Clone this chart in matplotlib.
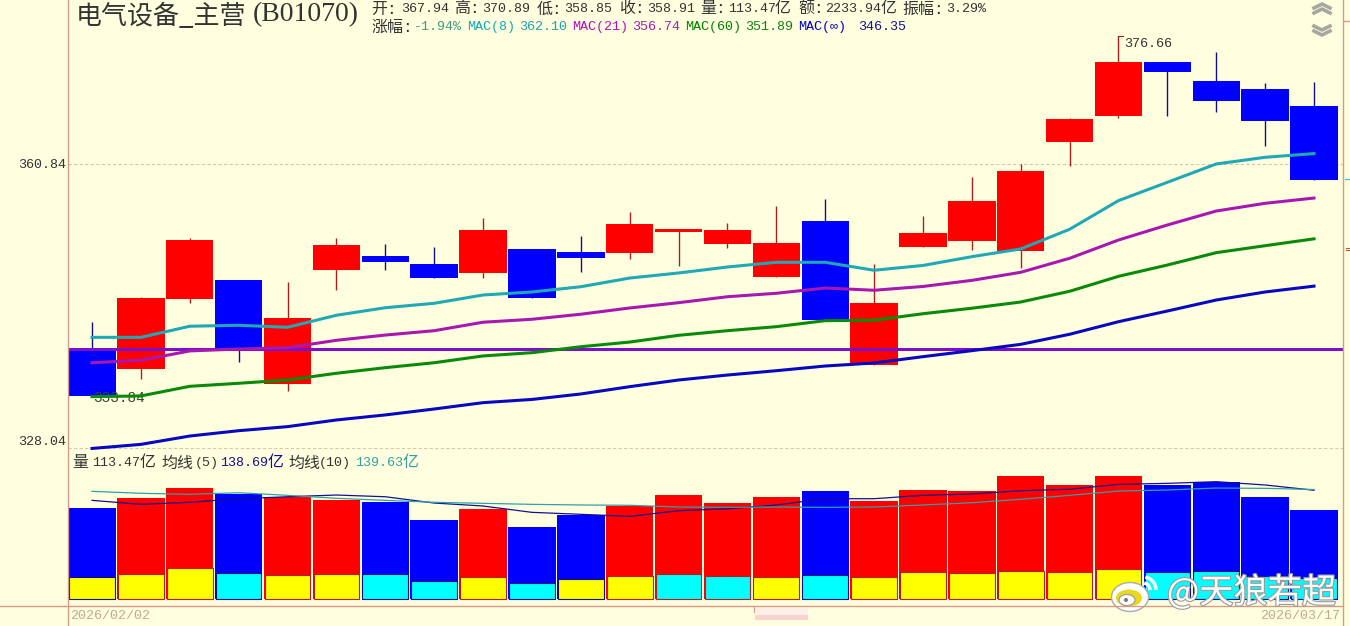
import matplotlib
matplotlib.use("Agg")
import matplotlib.pyplot as plt
import matplotlib.patheffects as pe
from matplotlib.patches import Arc, Ellipse, Rectangle
from matplotlib.ticker import NullLocator

# K line values
opens = [338.90, 336.85, 344.86, 347.06, 335.16, 348.23, 349.87, 348.93, 347.88, 350.70, 350.34, 350.22, 352.70,
         351.28, 347.41, 354.00, 337.30, 350.93, 351.63, 350.46, 363.52, 366.70, 373.41, 371.03, 370.04, 367.94]
closes = [333.84, 344.97, 351.75, 339.12, 342.67, 351.16, 349.17, 347.29, 352.94, 344.97, 349.64, 353.65, 353.06,
          352.94, 351.40, 342.44, 344.40, 352.58, 356.39, 359.99, 366.33, 373.41, 372.15, 368.55, 366.09, 358.91]
highs = [342.21, 345.09, 351.98, 347.06, 346.83, 351.98, 351.28, 350.93, 354.36, 350.70, 352.22, 355.07, 353.06,
         353.77, 355.79, 356.63, 348.93, 354.60, 359.27, 360.84, 366.45, 376.66, 373.41, 374.66, 370.79, 370.89]
lows = [333.84, 335.72, 344.40, 337.64, 334.38, 345.90, 348.23, 347.29, 347.29, 344.97, 348.00, 349.52, 348.70,
        350.81, 347.41, 342.44, 337.30, 350.93, 350.58, 348.46, 360.60, 366.45, 366.70, 367.19, 363.03, 358.85]
# candle colour
is_red = [0, 1, 1, 0, 1, 1, 0, 0, 1, 0, 0, 1, 1, 1, 1, 0, 1, 1, 1, 1, 1, 1, 0, 0, 0, 0]

mac8 = [340.45, 340.45, 341.72, 341.83, 341.60, 342.98, 343.85, 344.36, 345.32, 345.67, 346.28, 347.29, 347.88,
        348.58, 349.13, 349.13, 348.20, 348.76, 349.79, 350.70, 353.02, 356.43, 358.63, 360.84, 361.65, 362.10]
mac21 = [337.56, 337.84, 338.90, 339.12, 339.27, 340.11, 340.71, 341.21, 342.18, 342.52, 343.10, 343.82, 344.43,
         345.12, 345.52, 346.13, 345.87, 346.31, 347.02, 347.96, 349.60, 351.75, 353.53, 355.19, 356.11, 356.74]
mac60 = [333.74, 333.82, 334.90, 335.24, 335.61, 336.37, 337.00, 337.56, 338.33, 338.70, 339.38, 339.91, 340.68,
         341.21, 341.67, 342.36, 342.41, 343.16, 343.79, 344.51, 345.75, 347.49, 348.81, 350.26, 351.08, 351.89]
mac_inf = [327.99, 328.44, 329.36, 329.95, 330.40, 331.14, 331.70, 332.36, 333.07, 333.43, 334.04, 334.86, 335.61,
           336.17, 336.66, 337.19, 337.53, 338.25, 338.93, 339.65, 340.80, 342.24, 343.47, 344.74, 345.67, 346.35]
level_line = 339.12

# volume in 亿
volume = [116.0, 128.8, 141.5, 134.3, 130.4, 126.6, 124.1, 100.7, 114.8, 91.8, 107.1, 118.2, 132.6,
          122.4, 130.1, 137.7, 125.0, 139.0, 137.7, 156.8, 145.4, 156.8, 145.4, 149.2, 130.1, 113.47]
inner_volume = [28.4, 31.9, 39.5, 33.5, 30.6, 31.9, 31.9, 23.0, 28.1, 20.4, 25.5, 29.3, 31.9,
                29.3, 28.1, 30.6, 28.1, 34.4, 33.2, 35.7, 34.4, 38.3, 34.4, 35.7, 29.3, 26.8]
inner_is_yellow = [1, 1, 1, 0, 1, 1, 0, 0, 1, 0, 1, 1, 0, 0, 1, 0, 1, 1, 1, 1, 1, 1, 0, 0, 0, 0]
vol_ma5 = [125.8, 120.7, 123.3, 127.9, 130.4, 132.6, 130.4, 122.4, 118.6, 110.5, 108.0, 105.4, 112.6,
           115.1, 119.9, 127.9, 127.9, 132.2, 133.9, 138.1, 139.9, 146.2, 147.5, 149.6, 145.4, 138.69]
vol_ma10 = [137.3, 134.8, 133.5, 135.5, 132.2, 128.4, 125.8, 123.3, 122.0, 120.7, 119.9, 119.5, 117.3,
            116.9, 117.3, 116.9, 117.3, 119.9, 122.8, 127.1, 132.2, 137.7, 139.0, 141.5, 141.1, 139.63]

price_ticks = [328.04, 360.84]

BG = "#FFFFE0"
FRAME = "#D89A88"
TEXT = "#333333"
MONO = ["Liberation Mono", "Noto Sans CJK SC"]
W, H = 1350, 626

fig = plt.figure(figsize=(W / 100, H / 100), dpi=100, facecolor=BG)
days = list(range(len(closes)))
xlim = (-0.491, 25.593)


def make_axes(top, bottom):
    a = fig.add_axes([68 / W, 1 - bottom / H, (1343 - 68) / W, (bottom - top) / H], facecolor=BG)
    a.set_xlim(*xlim)
    a.set_xticks([])
    for s in a.spines.values():
        s.set_visible(False)
    return a


# price panel (log scale)
ax = make_axes(0, 450)
ax.set_yscale("log")
ax.set_ylim(327.82, 381.25)
ax.set_yticks(price_ticks)
ax.set_yticklabels(["328.04", "360.84"], fontfamily=MONO, fontsize=9.6, color=TEXT)
ax.yaxis.set_minor_locator(NullLocator())
ax.tick_params(axis="y", length=0, pad=1.5)
ax.get_yticklabels()[0].set_verticalalignment("bottom")
ax.grid(axis="y", color="#D8C8A8", linestyle=(0, (3, 2)), linewidth=0.8)
ax.set_axisbelow(True)

for d in days:
    red = is_red[d]
    ax.vlines(d, lows[d], highs[d], color="#A82020" if red else "#101080", linewidth=1, zorder=2)
    bottom = min(opens[d], closes[d])
    ax.bar(d, max(opens[d], closes[d]) - bottom, bottom=bottom, width=0.97,
           color="#FF0000" if red else "#0000FF", zorder=3)

ax.annotate("333.84", (0, 333.84), xytext=(1, -1.5), textcoords="offset points", va="center",
            fontfamily=MONO, fontsize=10.4, color="#334433", zorder=4)
ax.axhline(level_line, color="#7A10C8", linewidth=2.2, zorder=5)
ax.plot(days, mac8, color="#20A8B4", linewidth=2.2, zorder=6)
ax.plot(days, mac21, color="#A818B0", linewidth=2.2, zorder=6)
ax.plot(days, mac60, color="#0A8A0A", linewidth=2.2, zorder=6)
ax.plot(days, mac_inf, color="#0808C0", linewidth=2.2, zorder=6)

# volume panel
vax = make_axes(450, 606)
vax.set_ylim(-8.9, 190)
vax.set_yticks([])
for d in days:
    c = "#FF0000" if is_red[d] else "#0000FF"
    vax.bar(d, volume[d], width=0.97, color=c, zorder=2)
    vax.bar(d, inner_volume[d], width=0.935, color="#FFFF00" if inner_is_yellow[d] else "#00FFFF",
            edgecolor="#B02020" if is_red[d] else "#101080", linewidth=0.8, zorder=3)
vax.plot(days, vol_ma5, color="#101090", linewidth=0.9, zorder=4)
vax.plot(days, vol_ma10, color="#30A0A8", linewidth=0.9, zorder=4)

# overlay in pixels for the frame and header texts
top = fig.add_axes([0, 0, 1, 1], zorder=10)
top.set_xlim(0, W)
top.set_ylim(H, 0)
top.axis("off")


def put(x, y, s, color=TEXT):
    # half width text is 8px a char, Chinese is 16px
    size = 9.6 if s.isascii() or s.startswith("MAC") else 11.5
    top.text(x, y, s, color=color, fontsize=size, fontfamily=MONO, va="center", ha="left")


top.plot([68, 68], [0, H], color=FRAME, linewidth=1)
top.plot([1343, 1343], [0, H], color=FRAME, linewidth=1)
top.plot([0, 1343], [606, 606], color=FRAME, linewidth=1)
top.plot([1343, W], [21, 21], color=FRAME, linewidth=1)
top.plot([1345, W], [179, 179], color="#40C8E0", linewidth=1)
top.plot([1346, W], [248, 248], color="#D05040", linewidth=0.8)
top.plot([1346, W], [250, 250], color="#D05040", linewidth=0.8)

# scroll buttons
for y0, sign in [(8, -1), (13, -1), (26, 1), (31, 1)]:
    top.plot([1314, 1322, 1330], [y0, y0 + sign * 4, y0], color="#A8A8A0", linewidth=2.6)

top.text(76, 16, "电气设备_主营", fontsize=18.7, color=TEXT, fontfamily="Noto Sans CJK SC", va="center")
top.text(253, 15, "(B01070)", fontsize=20, color=TEXT, fontfamily="Liberation Serif", va="center")

for x, s in [(371, "开:"), (401, "367.94"), (454, "高:"), (482, "370.89"), (537, "低:"), (564, "358.85"),
             (619, "收:"), (647, "358.91"), (700, "量:"), (728, "113.47"), (775, "亿"), (798, "额:"),
             (825, "2233.94"), (881, "亿"), (902, "振幅:"), (946, "3.29%")]:
    put(x, 9, s)

put(371, 27, "涨幅:")
for x, s, c in [(414, "-1.94%", "#3C9C80"), (467, "MAC(8)", "#10A8B8"), (519, "362.10", "#20A0B0"),
                (572, "MAC(21)", "#B010C0"), (632, "356.74", "#A020B0"), (685, "MAC(60)", "#008000"),
                (745, "351.89", "#108010"), (798, "MAC(∞)", "#0000C0"), (858, "346.35", "#101090")]:
    put(x, 27, s, c)

for x, s, c in [(72, "量", TEXT), (92, "113.47", TEXT), (140, "亿", TEXT), (161, "均线", TEXT), (195, "(5)", TEXT),
                (220, "138.69", "#101090"), (268, "亿", "#101090"), (288, "均线", TEXT), (319, "(10)", TEXT),
                (355, "139.63", "#30A0A8"), (403, "亿", "#30A0A8")]:
    put(x, 463, s, c)

put(1124, 44, "376.66")
top.plot([1118, 1123], [36, 36], color="#A82020", linewidth=0.8)

put(70, 616, "2026/02/02", "#C0A898")
put(1260, 616, "2026/03/17", "#C0A898")

# smudged label under the axis
top.add_patch(Rectangle((755, 608), 53, 7, color="#FDF0E8", linewidth=0))
top.add_patch(Rectangle((755, 615), 53, 5, color="#F9D4CC", linewidth=0))
top.plot([754, 754], [606, 612], color=FRAME, linewidth=0.8)

# weibo watermark
outline = [pe.withStroke(linewidth=1.6, foreground="#9A9A9A")]
top.text(1167, 593, "@天狼若超", fontsize=24.6, color="white", fontfamily="Noto Sans CJK SC", va="center",
         path_effects=outline)
top.add_patch(Ellipse((1130, 597), 37, 29, facecolor="white", edgecolor="#AAAAAA", linewidth=1))
top.add_patch(Ellipse((1129, 598), 26, 17, facecolor="#E8D820", edgecolor="none"))
top.add_patch(Ellipse((1127, 600), 16, 11, facecolor="white", edgecolor="#999999", linewidth=0.8))
top.add_patch(Ellipse((1126, 600), 4, 4, facecolor="#777777", edgecolor="none"))
top.add_patch(Arc((1143, 590), 26, 26, theta1=-70, theta2=10, angle=-10, color="white", linewidth=2.5))
top.add_patch(Arc((1143, 590), 14, 14, theta1=-70, theta2=10, angle=-10, color="white", linewidth=2.5))

fig.savefig("out.png", dpi=100, facecolor=BG)
